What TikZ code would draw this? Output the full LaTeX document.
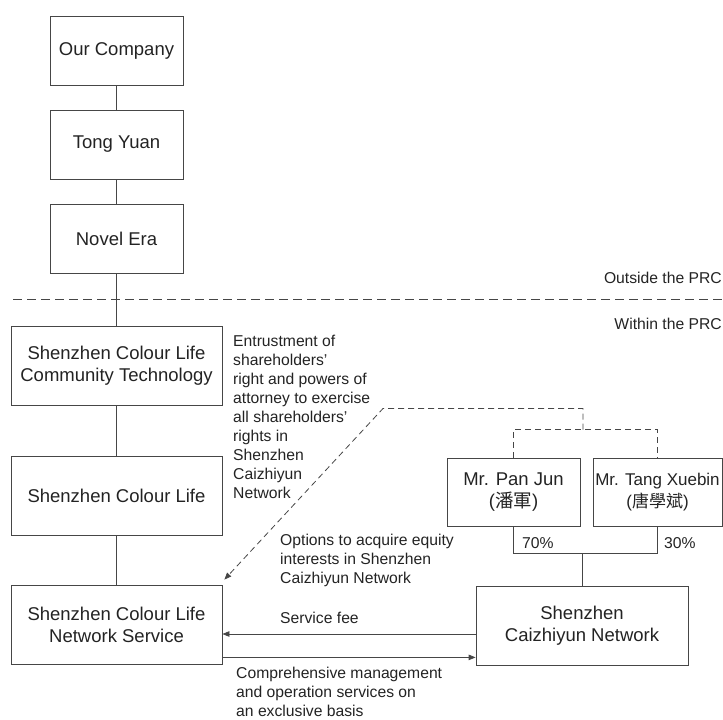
\documentclass[tikz,border=0pt]{standalone}
\usepackage{fontspec}
\setmainfont{Liberation Sans}
\newfontfamily\cjkfont{Noto Sans CJK TC}
\usetikzlibrary{arrows.meta, calc}
\definecolor{inkgry}{RGB}{35,35,35}
\definecolor{linegry}{RGB}{70,70,70}

\begin{document}
\begin{tikzpicture}[x=1pt, y=-1pt,
    entity/.style={draw=linegry, line width=0.8pt, text=inkgry, align=center,
      inner sep=0pt, font=\fontsize{18.5}{22}\selectfont},
    note/.style={text=inkgry, align=left, inner sep=0pt,
      font=\fontsize{15.7}{19}\selectfont},
    link/.style={draw=linegry, line width=0.8pt},
    ctrl/.style={link, dash pattern=on 6pt off 4pt},
    flow/.style={link, -{Triangle[length=7pt, width=5.5pt]}}]
        \useasboundingbox (0,0) rectangle (723,720);
        % offshore chain
        \node[entity, minimum width=133pt, minimum height=69pt] (ourco) at (116.5,50.5) {Our Company};
        \node[entity, minimum width=133pt, minimum height=69pt] (tongyuan) at (116.5,144.5) {Tong Yuan};
        \node[entity, minimum width=133pt, minimum height=69pt] (novelera) at (116.5,238.5) {Novel Era};
        % PRC border
        \coordinate (prcl) at (13,299.5);
        \coordinate (prcr) at (723,299.5);
        \draw[link, dash pattern=on 9pt off 5pt] (prcl) -- (prcr);
        \node[note, anchor=base east] (outside) at (722,283.5) {Outside the PRC};
        \node[note, anchor=base east] (within) at (722,329.5) {Within the PRC};
        % onshore chain
        \node[entity, minimum width=211pt, minimum height=79pt] (commtech) at (116.5,365.5)
          {Shenzhen Colour Life\\Community Technology};
        \node[entity, minimum width=211pt, minimum height=79pt] (colourlife) at (116.5,495.5)
          {Shenzhen Colour Life};
        \node[entity, minimum width=211pt, minimum height=79pt] (netsvc) at (116.5,624.5)
          {Shenzhen Colour Life\\Network Service};
        \draw[link] (ourco) -- (tongyuan);
        \draw[link] (tongyuan) -- (novelera);
        \draw[link] (novelera) -- (commtech);
        \draw[link] (commtech) -- (colourlife);
        \draw[link] (colourlife) -- (netsvc);
        % registered shareholders
        \node[entity, minimum width=133pt, minimum height=68pt] (panjun) at (513.5,492)
          {Mr. Pan Jun\\({\cjkfont 潘軍})};
        \node[entity, minimum width=129pt, minimum height=68pt,
          font=\fontsize{17}{22}\selectfont] (tangxb) at (657.5,492)
          {Mr. Tang Xuebin\\({\cjkfont 唐學斌})};
        \node[entity, minimum width=212pt, minimum height=79pt] (caizhiyun) at (582,625.5)
          {Shenzhen\\Caizhiyun Network};
        \coordinate (owntop) at (582,553.5);
        \draw[link] (panjun.south) |- (owntop) -| (tangxb.south);
        \draw[link] (owntop) -- (caizhiyun.north);
        \node[note, anchor=base west] (pct70) at (522,548.5) {70\%};
        \node[note, anchor=base west] (pct30) at (664,548.5) {30\%};
        % contractual arrangements
        \coordinate (barmid) at (583,429.5);
        \coordinate (barup) at (583,408.5);
        \coordinate (bend) at (383,408.5);
        \draw[ctrl] (panjun.north) |- (barmid) -| (tangxb.north);
        \draw[ctrl, -{Triangle[length=7pt, width=5.5pt]}] (barmid) -- (barup) -- (bend)
          -- ([xshift=2pt, yshift=5pt]netsvc.north east);
        \node[note, anchor=north west] (entrust) at (233,335)
          {Entrustment of\\shareholders'\\right and powers of\\attorney to exercise\\all shareholders'\\rights in\\Shenzhen\\Caizhiyun\\Network};
        \node[note, anchor=north west] (options) at (280,534)
          {Options to acquire equity\\interests in Shenzhen\\Caizhiyun Network};
        \draw[flow] ([yshift=-8.5pt]caizhiyun.west) -- ([yshift=-8.5pt]caizhiyun.west -| netsvc.east);
        \draw[flow] ([yshift=7pt]netsvc.south east) -- ([yshift=7pt]netsvc.south east -| caizhiyun.west);
        \node[note, anchor=base west] (fee) at (280,623.5) {Service fee};
        \node[note, anchor=north west] (mgmt) at (236,666.5)
          {Comprehensive management\\and operation services on\\an exclusive basis};
      \end{tikzpicture}
\end{document}
